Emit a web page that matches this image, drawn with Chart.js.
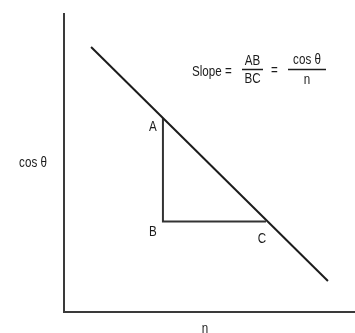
<!DOCTYPE html>
<html>
<head>
<meta charset="utf-8">
<script src="https://cdn.jsdelivr.net/npm/chart.js@4"></script>
<style>
  html, body { margin: 0; padding: 0; background: #fff; }
  #wrap { width: 355px; height: 333px; position: relative; }
</style>
</head>
<body>
<div id="wrap"><canvas id="slopeChart"></canvas></div>
<script>
// straight line: cos θ against n
const lineN = [0.93, 9.07];
const lineCos = [8.89, 1.04];

// right triangle A -> B -> C under the line
const triN = [3.40, 3.40, 6.94];
const triCos = [6.51, 3.04, 3.04];
const triNames = ["A", "B", "C"];

const xTitle = "n";
const yTitle = "cos θ";

const FONT = "'Liberation Sans', Arial, sans-serif";
const INK = "#1c1c1c";

const toPoints = (xs, ys) => xs.map((x, i) => ({ x: x, y: ys[i] }));

// narrow text, like Arial Narrow
function narrowText(ctx, text, x, y) {
  ctx.save();
  ctx.translate(x, y);
  ctx.scale(0.83, 1);
  ctx.fillText(text, 0, 0);
  ctx.restore();
}

// labels and the slope formula
const annotations = {
  id: "annotations",
  afterDatasetsDraw(chart) {
    const { ctx, chartArea, scales } = chart;
    const { left, top, bottom } = chartArea;
    ctx.save();
    ctx.fillStyle = INK;
    ctx.strokeStyle = INK;

    // point labels, offset from the triangle corners
    const offsets = [[-10, 9], [-10, 11], [-4, 18]];
    ctx.font = "14px " + FONT;
    ctx.textAlign = "center";
    ctx.textBaseline = "middle";
    triNames.forEach((name, i) => {
      const px = scales.x.getPixelForValue(triN[i]);
      const py = scales.y.getPixelForValue(triCos[i]);
      narrowText(ctx, name, px + offsets[i][0], py + offsets[i][1]);
    });

    // axis titles
    narrowText(ctx, yTitle, left - 31, (top + bottom) / 2);
    ctx.textBaseline = "alphabetic";
    narrowText(ctx, xTitle, 205, bottom + 21);

    // Slope = AB/BC = cos θ / n
    ctx.font = "14px " + FONT;
    ctx.textAlign = "left";
    ctx.textBaseline = "middle";
    narrowText(ctx, "Slope =", 192, 72);
    ctx.textAlign = "center";
    narrowText(ctx, "AB", 252.5, 61);
    narrowText(ctx, "BC", 252.5, 79);
    narrowText(ctx, "=", 274.5, 71);
    narrowText(ctx, "cos θ", 307, 60);
    narrowText(ctx, "n", 307, 80);
    ctx.lineWidth = 1.3;
    ctx.beginPath();
    ctx.moveTo(242, 69.5);
    ctx.lineTo(263, 69.5);
    ctx.moveTo(288, 69.5);
    ctx.lineTo(326, 69.5);
    ctx.stroke();
    ctx.restore();
  },
};

const axis = {
  type: "linear",
  min: 0,
  max: 10,
  ticks: { display: false },
  grid: { display: false, drawTicks: false },
  border: { display: true, color: "#3a3a3a", width: 2 },
};

new Chart(document.getElementById("slopeChart").getContext("2d"), {
  type: "scatter",
  data: {
    datasets: [
      {
        label: "line",
        data: toPoints(lineN, lineCos),
        showLine: true,
        borderColor: INK,
        borderWidth: 2,
        pointRadius: 0,
      },
      {
        label: "triangle",
        data: toPoints(triN, triCos),
        showLine: true,
        borderColor: "#333",
        borderWidth: 2,
        pointRadius: 0,
      },
    ],
  },
  options: {
    responsive: true,
    maintainAspectRatio: false,
    animation: false,
    layout: {
      autoPadding: false,
      padding: { left: 64, top: 14, right: 0, bottom: 21 },
    },
    plugins: {
      legend: { display: false },
      tooltip: { enabled: false },
    },
    scales: {
      x: axis,
      y: { ...axis },
    },
  },
  plugins: [annotations],
});
</script>
</body>
</html>
